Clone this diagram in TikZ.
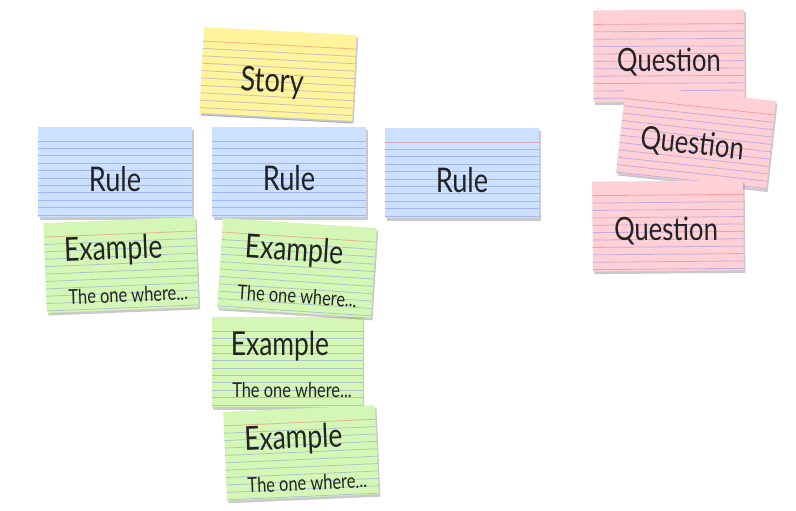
\documentclass[tikz,border=0pt]{standalone}
\usepackage{fontspec}
\newfontfamily\handfont{Lato}[FakeStretch=0.8]
\usetikzlibrary{shadows}

\definecolor{storyyellow}{RGB}{255,243,156}
\definecolor{ruleblue}{RGB}{204,224,255}
\definecolor{examplegreen}{RGB}{213,247,181}
\definecolor{questionpink}{RGB}{255,208,214}
\definecolor{inkgray}{RGB}{35,35,35}
\definecolor{lineblue}{RGB}{110,120,230}
\definecolor{linered}{RGB}{240,80,80}

% index card: name, centre, angle, colour, width, height, contents
\newcommand{\indexcard}[7]{%
  \begin{scope}[shift={#2}, rotate=#3]
    \node[card, fill=#4, minimum width=#5pt, minimum height=#6pt] (#1) at (0,0) {};
    \foreach \k in {1,...,10}
      \draw[ruled] ({-#5/2},{-#6/2+14+7.4*\k}) -- ({#5/2},{-#6/2+14+7.4*\k});
    \draw[margin] ({-#5/2},{-#6/2+14}) -- ({#5/2},{-#6/2+14});
    #7
  \end{scope}}

\begin{document}
\begin{tikzpicture}[
    x=1pt, y=-1pt,
    card/.style={rectangle, inner sep=0pt, transform shape,
      drop shadow={shadow xshift=1.5pt, shadow yshift=-2.5pt, opacity=0.3, fill=black!70}},
    ruled/.style={draw=lineblue, opacity=0.4, line width=0.8pt},
    margin/.style={draw=linered, opacity=0.4, line width=0.8pt},
    bigword/.style={transform shape, inner sep=0pt, text=inkgray, font=\handfont\fontsize{34}{34}\selectfont},
    qword/.style={bigword, font=\handfont\fontsize{32}{32}\selectfont},
    exword/.style={transform shape, inner sep=0pt, text=inkgray, font=\handfont\fontsize{33}{33}\selectfont},
    smallword/.style={transform shape, inner sep=0pt, text=inkgray, font=\handfont\fontsize{20.5}{20.5}\selectfont}
  ]
  \useasboundingbox (0,0) rectangle (796,511);

  % story and rules
  \indexcard{story}{(278,74)}{-3}{storyyellow}{153}{86}{\node[bigword] (storytext) at (-5,9) {Story};}
  \indexcard{rule1}{(115,172)}{0}{ruleblue}{154}{90}{\node[bigword] (rule1text) at (0,7) {Rule};}
  \indexcard{rule2}{(289,172)}{0}{ruleblue}{154}{90}{\node[bigword] (rule2text) at (0,6) {Rule};}
  \indexcard{rule3}{(462,173)}{0}{ruleblue}{154}{90}{\node[bigword] (rule3text) at (0,7) {Rule};}

  % examples
  \indexcard{ex1}{(121,265)}{2.3}{examplegreen}{152}{90}{%
    \node[exword] (ex1text) at (-7,-15) {Example};
    \node[smallword] (ex1sub) at (6,30) {The one where...};}
  \indexcard{ex3}{(287,362)}{0}{examplegreen}{151}{90}{%
    \node[exword] (ex3text) at (-7,-16) {Example};
    \node[smallword] (ex3sub) at (5,28) {The one where...};}
  \indexcard{ex2}{(297,268)}{-3.7}{examplegreen}{154}{90}{%
    \node[exword] (ex2text) at (-4,-16) {Example};
    \node[smallword] (ex2sub) at (2,28) {The one where...};}
  \indexcard{ex4}{(301,453)}{2.5}{examplegreen}{152}{89}{%
    \node[exword] (ex4text) at (-7,-14) {Example};
    \node[smallword] (ex4sub) at (5,30) {The one where...};}

  % questions
  \indexcard{q1}{(669,56)}{0.3}{questionpink}{151}{92}{\node[qword] (q1text) at (0,6) {Question};}
  \indexcard{q2}{(696,137)}{-6.3}{questionpink}{151}{89}{\node[qword] (q2text) at (-3,8) {Question};}
  \indexcard{q3}{(668,226)}{0.5}{questionpink}{151}{90}{\node[qword] (q3text) at (-2,5) {Question};}
\end{tikzpicture}
\end{document}
